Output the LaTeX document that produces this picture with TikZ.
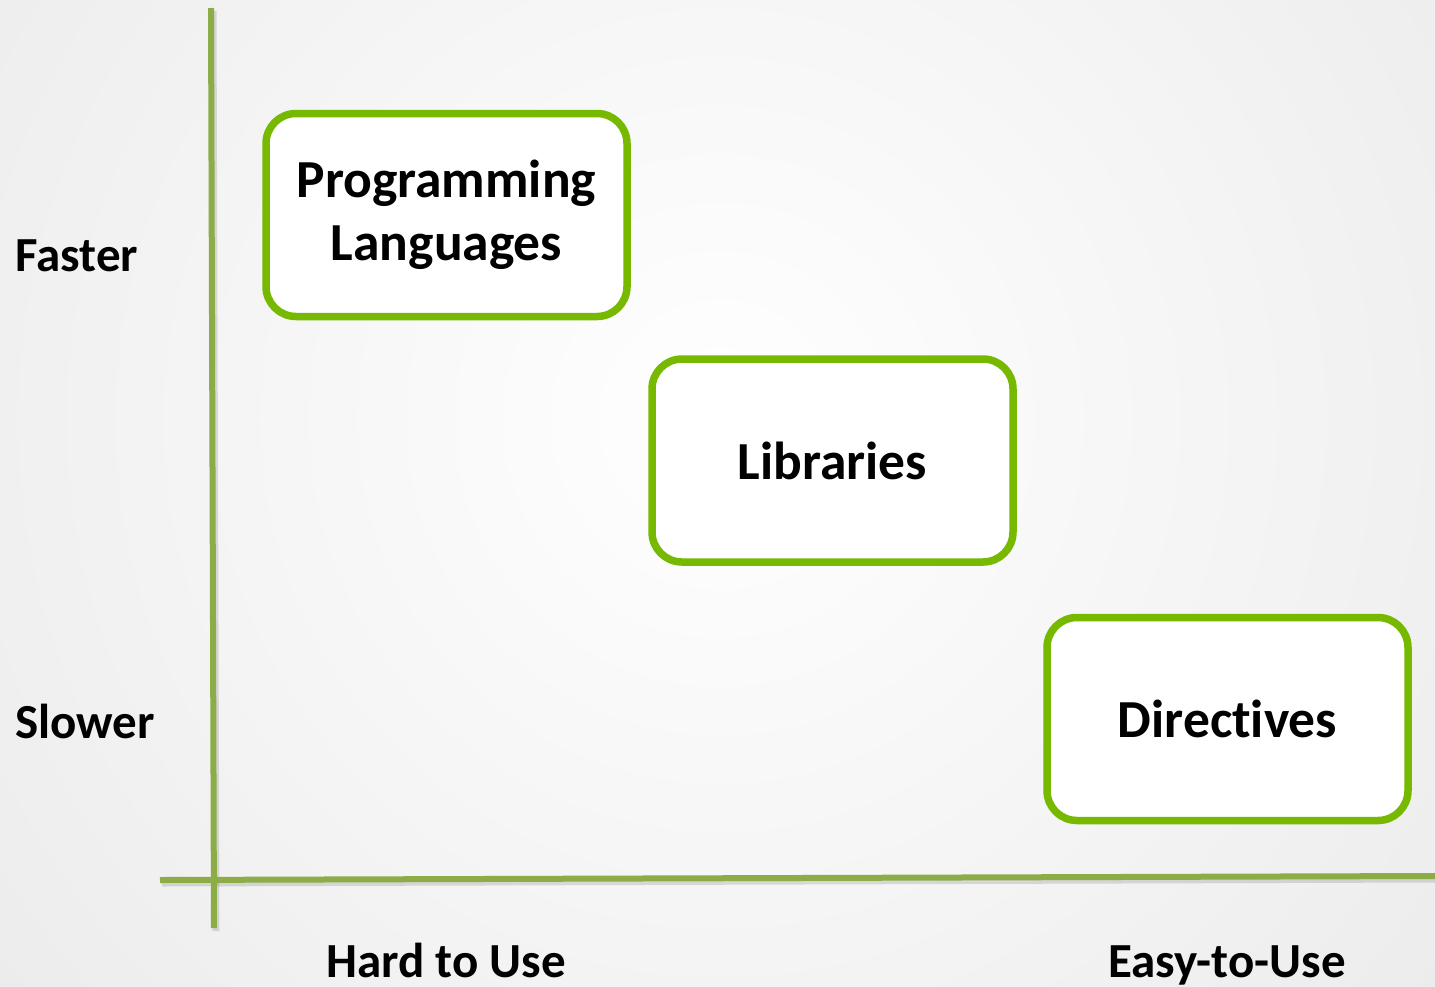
\documentclass[tikz,border=0pt]{standalone}
\usepackage{fontspec}
\setmainfont{Carlito}[Ligatures=NoCommon]
\usetikzlibrary{positioning}
\definecolor{axisgreen}{HTML}{8BAC47}
\definecolor{boxgreen}{HTML}{76B900}
\definecolor{edgegray}{HTML}{DFDFDF}
\tikzset{
  axis/.style={draw=axisgreen, line width=6pt},
  axisshadow/.style={draw=black, opacity=0.12, line width=7pt},
  choice/.style={draw=boxgreen, line width=7.5pt, fill=white, rounded corners=30pt,
    minimum width=361pt, minimum height=203pt, align=center, inner sep=0pt,
    font=\fontsize{53.5}{63}\selectfont\bfseries},
  scale label/.style={font=\fontsize{49}{58}\selectfont\bfseries, inner sep=0pt},
}
\begin{document}
\begin{tikzpicture}[x=1pt, y=-1pt]
  % page and soft radial background
  \useasboundingbox (0,0) rectangle (1435,986);
  \begin{scope}
    \clip (0,0) rectangle (1435,986);
    \fill[edgegray] (0,0) rectangle (1435,986);
    \shade[inner color=white, outer color=edgegray] (720,420) circle (1550pt);
  \end{scope}

  % axes with a faint shadow
  \coordinate (ytop) at (211,8);
  \coordinate (ybot) at (214,928);
  \coordinate (xleft) at (160,880);
  \coordinate (xright) at (1435,876);
  \draw[axisshadow] ([shift={(2,3)}]ytop) -- ([shift={(2,3)}]ybot);
  \draw[axisshadow] ([shift={(2,3)}]xleft) -- ([shift={(2,3)}]xright);
  \draw[axis] (ytop) -- (ybot);
  \draw[axis] (xleft) -- (xright);

  % the three approaches
  \node[choice] (lang) at (446.5,215) {Programming\\Languages};
  \node[choice] (libs) at (832.5,460.5) {Libraries};
  \node[choice] (dirs) at (1227.5,719) {Directives};

  % axis labels
  \node[scale label, anchor=west] (fast) at (15,256) {Faster};
  \node[scale label, anchor=west] (slow) at (15,721) {Slower};
  \node[scale label, anchor=base] (hard) at (446,977) {Hard to Use};
  \node[scale label, anchor=base] (easy) at (1227,977) {Easy-to-Use};
\end{tikzpicture}
\end{document}
